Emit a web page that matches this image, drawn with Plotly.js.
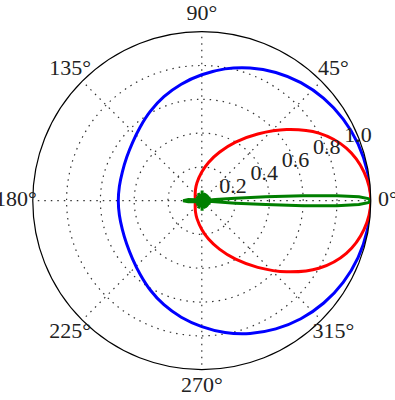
<!DOCTYPE html>
<html>
<head>
<meta charset="utf-8">
<script src="https://cdn.plot.ly/plotly-3.0.1.min.js"></script>
<style>html,body{margin:0;padding:0;background:#fff;}#chart{width:395px;height:400px;}</style>
</head>
<body>
<div id="chart"></div>
<script>
// Half patterns (0..180 deg), mirrored about the 0-180 axis
const blueTheta = [0, 10, 20, 30, 40, 50, 60, 70, 80, 90, 100, 110, 120, 130, 140, 150, 160, 170, 180];
const blueR     = [1.0, 0.995, 0.984, 0.966, 0.942, 0.912, 0.876, 0.836, 0.792, 0.745, 0.70, 0.655, 0.61, 0.568, 0.535, 0.513, 0.500, 0.495, 0.494];

const redTheta = [0, 10, 20, 30, 40, 50, 60, 70, 80, 90, 105, 120, 135, 150, 165, 180];
const redR     = [1.0, 0.975, 0.91, 0.8, 0.655, 0.515, 0.4, 0.305, 0.23, 0.17, 0.11, 0.075, 0.055, 0.045, 0.04, 0.04];

const greenTheta = [0, 0.7, 1.4, 2.1, 2.8, 3.5, 4.2, 4.9, 5.6, 9, 13, 18, 23, 30, 37, 45, 55, 65, 75, 88, 100, 115, 130, 140, 150, 160, 165, 170, 175, 180];
const greenR     = [1.0, 0.985, 0.93, 0.80, 0.60, 0.38, 0.20, 0.08, 0.0, 0.05, 0.0, 0.055, 0.0, 0.05, 0.0, 0.05, 0.0, 0.05, 0.0, 0.06, 0.0, 0.05, 0.0, 0.04, 0.0, 0.03, 0.0, 0.03, 0.08, 0.11];

const angleTicks = [0, 45, 90, 135, 180, 225, 270, 315];
const angleLabels = ["0°", "45°", "90°", "135°", "180°", "225°", "270°", "315°"];
const radialTicks = [0.2, 0.4, 0.6, 0.8, 1.0];
const radialLabels = ["0.2", "0.4", "0.6", "0.8", "1.0"];
const radialLabelAngle = 22.5;

function mirror(th, r) {
  const t2 = th.concat(th.slice(0, -1).reverse().map(t => 360 - t));
  const r2 = r.concat(r.slice(0, -1).reverse());
  return [t2, r2];
}

const [bT, bR] = mirror(blueTheta, blueR);
const [rT, rR] = mirror(redTheta, redR);
const [gT, gR] = mirror(greenTheta, greenR);

const FAMILY = "Liberation Serif, Times New Roman, serif";
const mkFont = () => ({family: FAMILY, size: 22, color: "#222"});

const data = [
  {type: "scatterpolar", mode: "lines", theta: bT, r: bR, line: {color: "#0000ff", width: 3, shape: "spline", smoothing: 1}, hoverinfo: "skip"},
  {type: "scatterpolar", mode: "lines", theta: rT, r: rR, line: {color: "#ff0000", width: 3, shape: "spline", smoothing: 1}, hoverinfo: "skip"},
  {type: "scatterpolar", mode: "lines", theta: gT, r: gR, line: {color: "#007f00", width: 3}, hoverinfo: "skip"},
  // radial tick labels, on the 22.5 degree ray
  {type: "scatterpolar", mode: "text", theta: radialTicks.map(() => radialLabelAngle), r: radialTicks,
   text: radialLabels, textposition: "middle center", textfont: mkFont(), cliponaxis: false, hoverinfo: "skip"},
  // angular tick labels, on a concentric label ring (polar2) just outside the plot circle
  {type: "scatterpolar", subplot: "polar2", mode: "text", theta: angleTicks, r: angleTicks.map(() => 1),
   text: angleLabels, textposition: "middle center", textfont: mkFont(), cliponaxis: false, hoverinfo: "skip"}
];

const hiddenAxis = {showgrid: false, showline: false, showticklabels: false, ticks: ""};

const layout = {
  width: 395, height: 400,
  margin: {l: 0, r: 0, t: 0, b: 0},
  paper_bgcolor: "#fff",
  showlegend: false,
  font: mkFont(),
  polar: {
    domain: {x: [0.0830, 0.9387], y: [0.0758, 0.9208]},
    bgcolor: "#fff",
    angularaxis: {
      tickmode: "array", tickvals: angleTicks, showticklabels: false,
      ticks: "", showline: true, linecolor: "#000", linewidth: 1.2,
      showgrid: true, gridcolor: "#333", gridwidth: 1.2, griddash: "1.5px,5px",
      direction: "counterclockwise", rotation: 0
    },
    radialaxis: {
      range: [0, 1], tickmode: "array", tickvals: radialTicks, showticklabels: false,
      angle: radialLabelAngle, showline: false, ticks: "",
      showgrid: true, gridcolor: "#333", gridwidth: 1.2, griddash: "1.5px,5px"
    }
  },
  polar2: {
    domain: {x: [0.0400, 0.9818], y: [0.0333, 0.9633]},
    bgcolor: "rgba(0,0,0,0)",
    angularaxis: Object.assign({direction: "counterclockwise", rotation: 0}, hiddenAxis),
    radialaxis: Object.assign({range: [0, 1]}, hiddenAxis)
  }
};

Plotly.newPlot("chart", data, layout, {staticPlot: true, displayModeBar: false});
</script>
</body>
</html>
